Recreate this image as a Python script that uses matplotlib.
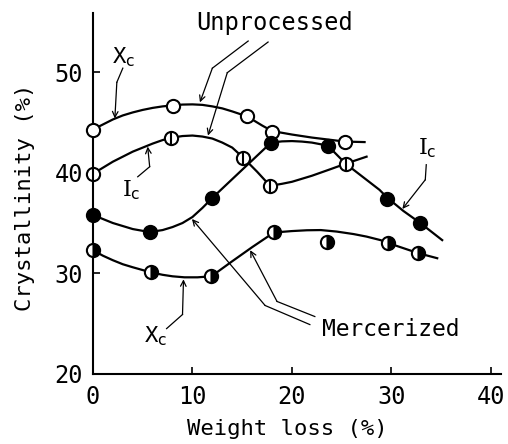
import numpy as np
import matplotlib
matplotlib.use("Agg")
import matplotlib.pyplot as plt

plt.rcParams["font.family"] = ["DejaVu Sans Mono", "DejaVu Sans"]
plt.rcParams["mathtext.fontset"] = "dejavusans"

# Measured points (weight loss %, crystallinity %)
unp_xc_x = [0, 8, 15.5, 18, 25.3]
unp_xc_y = [44.3, 46.6, 45.6, 44.1, 43.1]
unp_ic_x = [0, 7.8, 15.1, 17.8, 25.4]
unp_ic_y = [39.9, 43.5, 41.5, 38.7, 40.9]
mer_ic_x = [0, 5.7, 12, 17.9, 23.6, 29.6, 32.9]
mer_ic_y = [35.8, 34.1, 37.5, 43.0, 42.7, 37.4, 35.0]
mer_xc_x = [0, 5.8, 11.9, 18.2, 23.5, 29.7, 32.7]
mer_xc_y = [32.3, 30.1, 29.7, 34.1, 33.1, 33.0, 32.0]

# Hand-drawn trend curves
unp_xc_cx = [0, 1, 2, 3, 4, 5, 6, 7, 8, 9, 10, 11, 12, 13, 14, 15.5, 17, 18,
             20, 22, 25.3, 27.3]
unp_xc_cy = [44.3, 44.8, 45.3, 45.7, 46.0, 46.25, 46.45, 46.6, 46.7, 46.78, 46.8,
             46.75, 46.6, 46.4, 46.1, 45.6, 44.7, 44.15, 43.8, 43.5, 43.1, 43.05]
unp_ic_cx = [0, 1, 2, 3, 4, 5, 6, 7, 8, 9, 10, 11, 12, 13, 14, 15.1, 16.5, 17.8,
             19, 20, 22, 24, 25.4, 27.5]
unp_ic_cy = [39.9, 40.5, 41.1, 41.6, 42.1, 42.5, 42.9, 43.25, 43.5, 43.65, 43.7,
             43.6, 43.4, 43.0, 42.5, 41.5, 40.1, 38.7, 38.9, 39.1, 39.7, 40.4,
             40.9, 41.6]
mer_ic_cx = [0, 1, 2, 3, 4, 5.7, 7, 8, 9, 10, 11, 12, 15, 17.9, 19, 20, 21, 22,
             23.6, 25.4, 28.8, 29.6, 31.2, 32.9, 35.1]
mer_ic_cy = [35.8, 35.4, 35.0, 34.7, 34.4, 34.1, 34.3, 34.6, 35.0, 35.6, 36.5,
             37.5, 40.3, 43.0, 43.12, 43.15, 43.1, 43.0, 42.7, 40.9, 38.3, 37.5,
             36.2, 35.0, 33.3]
mer_xc_cx = [0, 1, 2, 3, 4, 5.8, 7, 8, 9.2, 10.5, 11.9, 14, 16, 18.1, 19, 20, 21.5,
             22.9, 24.5, 26.2, 27.5, 28.9, 29.7, 32.7, 34.6]
mer_xc_cy = [32.3, 31.75, 31.3, 30.9, 30.6, 30.1, 29.85, 29.7, 29.6, 29.6, 29.7,
             31.2, 32.6, 34.0, 34.12, 34.2, 34.28, 34.3, 34.15, 33.9, 33.65, 33.3,
             33.0, 32.0, 31.5]

xticks = [0, 10, 20, 30, 40]
yticks = [20, 30, 40, 50]

fig = plt.figure(figsize=(5.08, 4.44), dpi=100)
ax = fig.add_axes([0.183, 0.158, 0.803, 0.813])
ax.set_xlim(0, 41)
ax.set_ylim(20, 55.9)

lw = 1.6
ms = 9.5
mew = 1.5

for cx, cy in [(unp_xc_cx, unp_xc_cy), (unp_ic_cx, unp_ic_cy),
               (mer_ic_cx, mer_ic_cy), (mer_xc_cx, mer_xc_cy)]:
    ax.plot(cx, cy, color="black", lw=lw, clip_on=False, zorder=2,
            solid_joinstyle="round")

ax.plot(unp_xc_x, unp_xc_y, "o", ms=ms, mfc="white", mec="black", mew=mew,
        clip_on=False, zorder=4)
ax.plot(unp_ic_x, unp_ic_y, "o", ms=ms, mfc="white", mec="black", mew=mew,
        clip_on=False, zorder=4)
ax.plot(unp_ic_x, unp_ic_y, "|", ms=ms, mec="black", mew=mew,
        clip_on=False, zorder=5)
ax.plot(mer_ic_x, mer_ic_y, "o", ms=ms, mfc="black", mec="black", mew=mew,
        clip_on=False, zorder=4)
ax.plot(mer_xc_x, mer_xc_y, "o", ms=ms, fillstyle="right", mfc="black",
        mfcalt="white", mec="black", mew=mew, clip_on=False, zorder=4)

# labels and leader lines
arrow = dict(arrowstyle="->", color="black", lw=0.9, shrinkA=0, shrinkB=0)


def leader(points):
    xs = [p[0] for p in points]
    ys = [p[1] for p in points]
    ax.plot(xs[:-1], ys[:-1], color="black", lw=0.9, clip_on=False)
    ax.annotate("", xy=points[-1], xytext=points[-2], arrowprops=arrow)


ax.text(18.3, 54.9, "Unprocessed", fontsize=17, ha="center", va="center")
leader([(15.6, 53.1), (12.0, 50.4), (10.75, 47.0)])
leader([(17.6, 53.0), (13.5, 49.95), (11.56, 43.7)])

ax.text(3.1, 51.5, r"X$_{\rm c}$", fontsize=16, ha="center", va="center")
leader([(3.0, 50.4), (2.4, 49.0), (2.2, 45.4)])

ax.text(3.9, 38.3, r"I$_{\rm c}$", fontsize=16, ha="center", va="center",
        family="DejaVu Serif")
leader([(4.5, 39.6), (5.7, 40.6), (5.5, 42.6)])

ax.text(33.6, 42.4, r"I$_{\rm c}$", fontsize=16, ha="center", va="center",
        family="DejaVu Serif")
leader([(33.5, 40.8), (33.4, 39.3), (31.1, 36.4)])

ax.text(6.3, 23.7, r"X$_{\rm c}$", fontsize=16, ha="center", va="center")
leader([(7.4, 24.5), (9.0, 25.9), (9.1, 29.4)])

ax.text(23.0, 24.4, "Mercerized", fontsize=16.5, ha="left", va="center")
leader([(21.8, 24.9), (17.3, 26.8), (9.95, 35.4)])
leader([(22.3, 25.7), (18.5, 27.2), (15.8, 32.3)])

ax.spines["top"].set_visible(False)
ax.spines["right"].set_visible(False)
ax.spines["left"].set_linewidth(1.5)
ax.spines["bottom"].set_linewidth(1.5)
ax.set_xticks(xticks)
ax.set_yticks(yticks)
ax.tick_params(direction="in", length=5, width=1.2, labelsize=17)
ax.tick_params(axis="x", pad=8)
ax.tick_params(axis="y", pad=7)

ax.set_xlabel("Weight loss (%)", fontsize=16)
ax.set_ylabel("Crystallinity (%)", fontsize=16)
ax.xaxis.set_label_coords(0.477, -0.125)
ax.yaxis.set_label_coords(-0.142, 0.49)

fig.savefig("out.png", dpi=100)
